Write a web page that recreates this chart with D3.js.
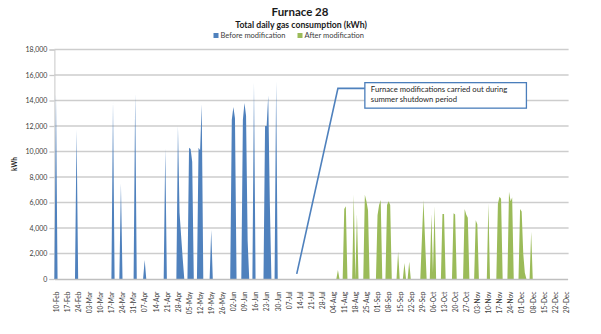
<!DOCTYPE html>
<html>
<head>
<meta charset="utf-8">
<script src="https://cdn.jsdelivr.net/npm/d3@7"></script>
<style>
  html, body { margin: 0; padding: 0; background: #fff; }
  svg { display: block; font-family: Lato, "Open Sans", "Liberation Sans", sans-serif; }
</style>
</head>
<body>
<svg id="chart" width="601" height="334"></svg>
<script>
// Furnace 28 – total daily gas consumption (kWh), 2013.
// Only days with consumption are listed; every other day reads zero.
const beforeDays = ["10-Feb","23-Feb","18-Mar","23-Mar","01-Apr","07-Apr","20-Apr",
  "28-Apr","29-Apr","30-Apr","01-May","05-May","06-May","07-May",
  "11-May","12-May","13-May","19-May","01-Jun","02-Jun","03-Jun",
  "08-Jun","09-Jun","10-Jun","11-Jun","15-Jun","22-Jun","23-Jun","24-Jun","25-Jun","29-Jun"];
const beforeKWh = [14500,11700,13900,7500,14550,1500,10250,
  12000,5200,3400,1600,10300,10200,9200,
  10300,10100,13700,3850,12500,13500,12600,
  12500,13800,12800,3000,15400,12000,12000,14400,6000,15500];

const afterDays = ["07-Aug","11-Aug","12-Aug","17-Aug","19-Aug","24-Aug","25-Aug","26-Aug",
  "01-Sep","02-Sep","03-Sep","07-Sep","08-Sep","09-Sep","14-Sep","18-Sep","21-Sep",
  "29-Sep","30-Sep","01-Oct","05-Oct","06-Oct","07-Oct","12-Oct","13-Oct","19-Oct","20-Oct",
  "26-Oct","27-Oct","28-Oct","02-Nov","03-Nov","10-Nov","16-Nov","17-Nov","18-Nov",
  "23-Nov","24-Nov","25-Nov","30-Nov","01-Dec","02-Dec","03-Dec","07-Dec"];
const afterKWh = [700,5500,5700,6600,5100,6600,6100,5400,
  5000,5800,6200,5800,6100,5800,2150,1250,1350,
  3100,6200,3100,5100,500,5700,5100,5100,5150,5050,
  5500,5050,4800,4600,4300,5950,5900,6450,6300,
  6850,6100,6400,5500,5300,2000,500,3700];

const seriesNames = ["Before modification", "After modification"];
const seriesColors = ["#4f81bd", "#9bbb59"];

const weekLabels = ["10-Feb","17-Feb","24-Feb","03-Mar","10-Mar","17-Mar","24-Mar","31-Mar",
  "07-Apr","14-Apr","21-Apr","28-Apr","05-May","12-May","19-May","26-May","02-Jun","09-Jun",
  "16-Jun","23-Jun","30-Jun","07-Jul","14-Jul","21-Jul","28-Jul","04-Aug","11-Aug","18-Aug",
  "25-Aug","01-Sep","08-Sep","15-Sep","22-Sep","29-Sep","06-Oct","13-Oct","20-Oct","27-Oct",
  "03-Nov","10-Nov","17-Nov","24-Nov","01-Dec","08-Dec","15-Dec","22-Dec","29-Dec"];
const yTicks = [0, 2000, 4000, 6000, 8000, 10000, 12000, 14000, 16000, 18000];

const YEAR = 2013;
const parseDay = d3.timeParse("%d-%b-%Y");
const toDate = s => parseDay(s + "-" + YEAR);
const fmtDay = d3.timeFormat("%d-%b");

const firstDay = toDate("09-Feb");
const lastDay = toDate("30-Dec");
const allDays = d3.timeDay.range(firstDay, d3.timeDay.offset(lastDay, 1));

function daily(days, values) {
  const lookup = new Map(days.map((d, i) => [d, values[i]]));
  return allDays.map(dt => ({ date: dt, value: lookup.get(fmtDay(dt)) || 0 }));
}
const series = [daily(beforeDays, beforeKWh), daily(afterDays, afterKWh)];

const svg = d3.select("#chart");
const plot = { left: 54.4, right: 567.6, top: 49.5, bottom: 279 };

const x = d3.scaleTime().domain([firstDay, lastDay]).range([plot.left, plot.right]);
const y = d3.scaleLinear().domain([0, 18000]).range([plot.bottom, plot.top]);

// Titles
svg.append("text").attr("x", 300).attr("y", 16).attr("text-anchor", "middle")
  .attr("font-size", 11.5).attr("font-weight", "bold").attr("fill", "#1a1a1a").text("Furnace 28");
svg.append("text").attr("x", 301).attr("y", 27.5).attr("text-anchor", "middle")
  .attr("font-size", 8.7).attr("font-weight", "bold").attr("fill", "#1a1a1a")
  .text("Total daily  gas consumption (kWh)");

// Legend
const legend = svg.append("g").attr("font-size", 7.5).attr("fill", "#404040");
const legendX = [213.5, 297.5];
seriesNames.forEach((name, i) => {
  legend.append("rect").attr("x", legendX[i]).attr("y", 33).attr("width", 5).attr("height", 5)
    .attr("fill", seriesColors[i]);
  legend.append("text").attr("x", legendX[i] + 7).attr("y", 38.2).text(name).attr("fill", "#404040");
});

// Horizontal gridlines
svg.append("g").selectAll("line").data(yTicks.filter(v => v > 0)).join("line")
  .attr("x1", plot.left).attr("x2", plot.right + 1)
  .attr("y1", d => y(d)).attr("y2", d => y(d))
  .attr("stroke", "#cdcdcd").attr("stroke-width", 1.3);

// Y axis
const yAxis = svg.append("g").attr("transform", `translate(${plot.left},0)`)
  .call(d3.axisLeft(y).tickValues(yTicks).tickSize(5).tickPadding(2).tickFormat(d3.format(",")));
yAxis.select(".domain").attr("stroke", "#c8c8c8").attr("stroke-width", 1);
yAxis.selectAll(".tick line").attr("stroke", "#c8c8c8").attr("stroke-width", 1.3);
yAxis.selectAll(".tick text").attr("font-size", 7).attr("fill", "#404040")
  .attr("font-family", "Lato, 'Open Sans', sans-serif");

svg.append("text").attr("transform", "translate(16.5,164) rotate(-90)")
  .attr("text-anchor", "middle").attr("font-size", 6.5).attr("font-weight", "bold")
  .attr("fill", "#1a1a1a").text("kWh");

// Areas
const area = d3.area().x(d => x(d.date)).y0(y(0)).y1(d => y(d.value));
svg.append("g").selectAll("path").data(series).join("path")
  .attr("d", area).attr("fill", (d, i) => seriesColors[i]);

// X axis with weekly labels
const tickDates = weekLabels.map(toDate);
const xAxis = svg.append("g").attr("transform", `translate(0,${plot.bottom})`)
  .call(d3.axisBottom(x).tickValues(tickDates).tickSize(0).tickFormat(fmtDay));
xAxis.select(".domain").attr("stroke", "#bfbfbf").attr("stroke-width", 1.3);
xAxis.selectAll(".tick text")
  .attr("font-size", 6.6).attr("fill", "#404040").attr("font-family", "Lato, 'Open Sans', sans-serif")
  .attr("text-anchor", "end").attr("transform", "rotate(-90)")
  .attr("x", -12.5).attr("y", 0).attr("dy", "0.35em");

// Callout: from the shutdown gap up to the note
const calloutFrom = { date: toDate("12-Jul"), value: 400 };
const calloutElbow = { date: toDate("07-Aug"), value: 14950 };
const note = { from: toDate("24-Aug"), to: toDate("04-Dec"), top: 15400, bottom: 13400 };
const noteLines = ["Furnace modifications carried out during", "summer shutdown period"];

svg.append("polyline")
  .attr("points", [
    [x(calloutFrom.date), y(calloutFrom.value)],
    [x(calloutElbow.date), y(calloutElbow.value)],
    [x(note.from), y(calloutElbow.value)]
  ].map(p => p.join(",")).join(" "))
  .attr("fill", "none").attr("stroke", "#4f81bd").attr("stroke-width", 1.6);

svg.append("rect")
  .attr("x", x(note.from)).attr("y", y(note.top))
  .attr("width", x(note.to) - x(note.from)).attr("height", y(note.bottom) - y(note.top))
  .attr("fill", "#fff").attr("stroke", "#4a7ebb").attr("stroke-width", 1.3);
svg.append("g").selectAll("text").data(noteLines).join("text")
  .attr("x", x(note.from) + 6).attr("y", (d, i) => y(note.top) + 9.3 + i * 10)
  .attr("font-size", 7.7).attr("fill", "#262626").text(d => d);
</script>
</body>
</html>
